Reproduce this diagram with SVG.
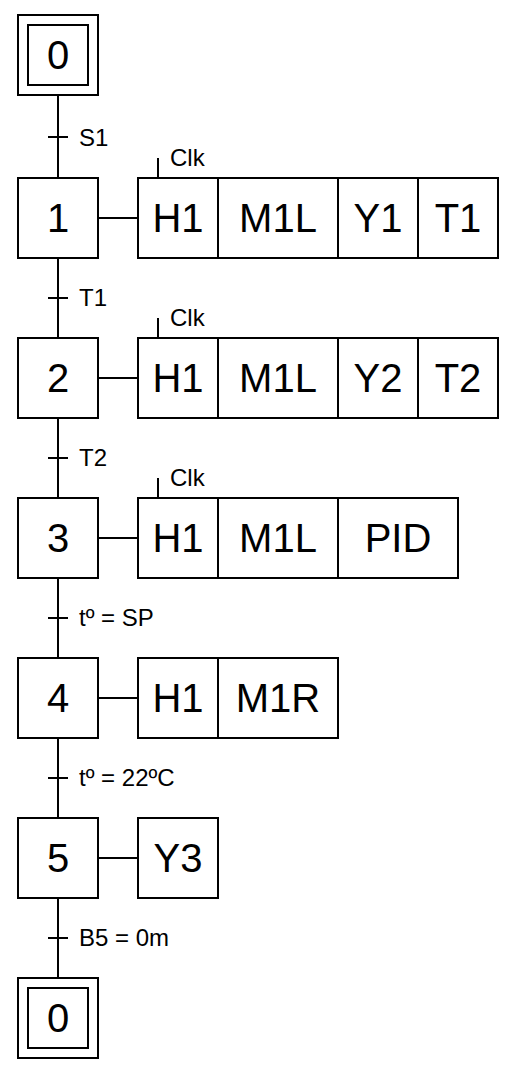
<svg xmlns="http://www.w3.org/2000/svg" width="520" height="1078" viewBox="0 0 520 1078">
<style>
rect{fill:#fff;stroke:#000;stroke-width:2}
line,path{stroke:#000;stroke-width:2;fill:none}
.n{font-family:"Liberation Sans",Arial,sans-serif;font-size:40px;text-anchor:middle;fill:#000}
.l{font-family:"Liberation Sans",Arial,sans-serif;font-size:24px;fill:#000}
.c{font-family:"Liberation Sans",Arial,sans-serif;font-size:24px;fill:#000}
</style>
<rect width="520" height="1078" style="stroke:none"/>
<g id="connectors">
<line x1="58" y1="95" x2="58" y2="178"/>
<line x1="58" y1="258" x2="58" y2="338"/>
<line x1="58" y1="418" x2="58" y2="498"/>
<line x1="58" y1="578" x2="58" y2="658"/>
<line x1="58" y1="738" x2="58" y2="818"/>
<line x1="58" y1="898" x2="58" y2="978"/>
<line x1="98" y1="218" x2="138" y2="218"/>
<line x1="98" y1="378" x2="138" y2="378"/>
<line x1="98" y1="538" x2="138" y2="538"/>
<line x1="98" y1="698" x2="138" y2="698"/>
<line x1="98" y1="858" x2="138" y2="858"/>
</g>
<g id="transitions">
<line x1="48" y1="137" x2="68" y2="137"/><text class="l" x="79" y="146">S1</text>
<line x1="48" y1="298" x2="68" y2="298"/><text class="l" x="79" y="306">T1</text>
<line x1="48" y1="458" x2="68" y2="458"/><text class="l" x="79" y="466">T2</text>
<line x1="48" y1="618" x2="68" y2="618"/><text class="l" x="79" y="626">tº = SP</text>
<line x1="48" y1="778" x2="68" y2="778"/><text class="l" x="79" y="786">tº = 22ºC</text>
<line x1="48" y1="938" x2="68" y2="938"/><text class="l" x="79" y="946">B5 = 0m</text>
</g>
<g id="step0">
<rect x="18" y="15" width="80" height="80"/><rect x="28" y="25" width="60" height="60"/>
<text class="n" x="58" y="69">0</text>
</g>
<g id="step1">
<rect x="18" y="178" width="80" height="80"/><text class="n" x="58" y="232">1</text>
</g>
<g id="actions1">
<line x1="158" y1="158" x2="158" y2="178"/><text class="c" x="170" y="166">Clk</text>
<rect x="138" y="178" width="80" height="80"/><text class="n" x="178" y="232">H1</text>
<rect x="218" y="178" width="120" height="80"/><text class="n" x="278" y="232">M1L</text>
<rect x="338" y="178" width="80" height="80"/><text class="n" x="378" y="232">Y1</text>
<rect x="418" y="178" width="80" height="80"/><text class="n" x="458" y="232">T1</text>
</g>
<g id="step2">
<rect x="18" y="338" width="80" height="80"/><text class="n" x="58" y="392">2</text>
</g>
<g id="actions2">
<line x1="158" y1="318" x2="158" y2="338"/><text class="c" x="170" y="326">Clk</text>
<rect x="138" y="338" width="80" height="80"/><text class="n" x="178" y="392">H1</text>
<rect x="218" y="338" width="120" height="80"/><text class="n" x="278" y="392">M1L</text>
<rect x="338" y="338" width="80" height="80"/><text class="n" x="378" y="392">Y2</text>
<rect x="418" y="338" width="80" height="80"/><text class="n" x="458" y="392">T2</text>
</g>
<g id="step3">
<rect x="18" y="498" width="80" height="80"/><text class="n" x="58" y="552">3</text>
</g>
<g id="actions3">
<line x1="158" y1="478" x2="158" y2="498"/><text class="c" x="170" y="486">Clk</text>
<rect x="138" y="498" width="80" height="80"/><text class="n" x="178" y="552">H1</text>
<rect x="218" y="498" width="120" height="80"/><text class="n" x="278" y="552">M1L</text>
<rect x="338" y="498" width="120" height="80"/><text class="n" x="398" y="552">PID</text>
</g>
<g id="step4">
<rect x="18" y="658" width="80" height="80"/><text class="n" x="58" y="712">4</text>
</g>
<g id="actions4">
<rect x="138" y="658" width="80" height="80"/><text class="n" x="178" y="712">H1</text>
<rect x="218" y="658" width="120" height="80"/><text class="n" x="278" y="712">M1R</text>
</g>
<g id="step5">
<rect x="18" y="818" width="80" height="80"/><text class="n" x="58" y="872">5</text>
</g>
<g id="actions5">
<rect x="138" y="818" width="80" height="80"/><text class="n" x="178" y="872">Y3</text>
</g>
<g id="step0b">
<rect x="18" y="978" width="80" height="80"/><rect x="28" y="988" width="60" height="60"/>
<text class="n" x="58" y="1032">0</text>
</g>
</svg>
